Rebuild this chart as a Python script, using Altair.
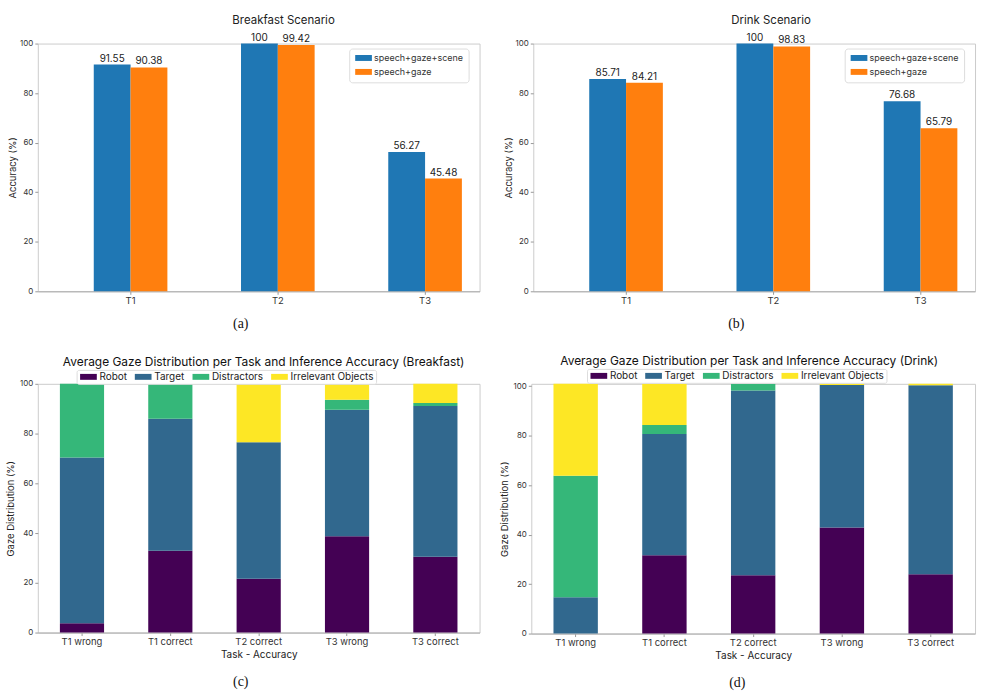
import altair as alt
import pandas as pd

# ---------------- data ----------------
tasks = ["T1", "T2", "T3"]
methods = ["speech+gaze+scene", "speech+gaze"]
method_colors = ["#1f77b4", "#ff7f0e"]
breakfast_sgs = [91.55, 100.0, 56.27]
breakfast_sg = [90.38, 99.42, 45.48]
drink_sgs = [85.71, 100.0, 76.68]
drink_sg = [84.21, 98.83, 65.79]

groups = ["T1 wrong", "T1 correct", "T2 correct", "T3 wrong", "T3 correct"]
gaze_classes = ["Robot", "Target", "Distractors", "Irrelevant Objects"]
gaze_colors = ["#440154", "#31688e", "#35b779", "#fde725"]
bf_robot = [3.7, 32.9, 21.6, 38.7, 30.5]
bf_target = [66.7, 53.1, 54.9, 50.9, 60.6]
bf_distr = [29.6, 14.0, 0.0, 4.0, 1.2]
bf_irr = [0.0, 0.0, 23.5, 6.4, 7.7]
dr_robot = [0.0, 31.7, 23.6, 42.9, 24.0]
dr_target = [14.7, 49.0, 74.7, 57.6, 76.4]
dr_distr = [49.1, 3.6, 2.7, 0.0, 0.0]
dr_irr = [37.2, 16.7, 0.0, 0.5, 0.6]

FONT = "Inter"
SERIF = "Liberation Serif"
RECT = "M-1,-0.85H3.8V0.85H-1Z"


def acc_df(a, b):
    rows = []
    for i, t in enumerate(tasks):
        for m, vals in zip(methods, (a, b)):
            rows.append({"task": t, "method": m, "acc": vals[i], "label": f"{vals[i]:g}"})
    return pd.DataFrame(rows)


def gaze_df(*series):
    rows = []
    for k, cls in enumerate(gaze_classes):
        for i, g in enumerate(groups):
            rows.append({"group": g, "cls": cls, "idx": k, "pct": series[k][i]})
    return pd.DataFrame(rows)


def caption_layer(text, x, y):
    return alt.Chart(alt.Data(values=[{"c": text}])).mark_text(
        font=SERIF, fontSize=14, color="#111", baseline="middle", align="center"
    ).encode(x=alt.value(x), y=alt.value(y), text="c:N")


def acc_panel(df, title, caption, dx):
    W, H = 444, 249
    x = alt.X("task:N", sort=tasks, title=None,
              scale=alt.Scale(paddingInner=0.5, paddingOuter=0.25, align=0.76),
              axis=alt.Axis(labelAngle=0, labelFontSize=9.5, tickSize=3, labelPadding=1))
    xo = alt.XOffset("method:N", sort=methods, scale=alt.Scale(paddingInner=0, paddingOuter=0))
    y = alt.Y("acc:Q", scale=alt.Scale(domain=[0, 100], nice=False),
              axis=alt.Axis(values=[0, 20, 40, 60, 80, 100], title="Accuracy (%)",
                            titleFontSize=9.5, labelFontSize=8, tickSize=3, titlePadding=2,
                            domain=False))
    base = alt.Chart(df)
    bars = base.mark_bar().encode(
        x=x, xOffset=xo, y=y,
        color=alt.Color("method:N", sort=methods,
                        scale=alt.Scale(domain=methods, range=method_colors),
                        legend=alt.Legend(title=None, orient="none", legendX=313, legendY=5,
                                          symbolType=RECT, symbolSize=49, labelFontSize=9,
                                          labelOffset=11, rowPadding=4, padding=5,
                                          strokeColor="#dddddd", fillColor="white",
                                          cornerRadius=3, labelColor="#333")),
    )
    labels = base.mark_text(baseline="bottom", dy=-1, fontSize=10, font=FONT, color="#222").encode(
        x=x, xOffset=xo, y=alt.Y("acc:Q"), text="label:N")
    cap = caption_layer(caption, 204, H + 33)
    return alt.layer(bars, labels, cap).properties(
        width=W, height=H,
        title=alt.Title(title, fontSize=11.5, font=FONT, fontWeight="normal", color="#222",
                        frame="group", dx=dx, offset=6))


def gaze_panel(df, title, caption, W, H, ymax, lx, ly, dx, capx):
    bars = alt.Chart(df).mark_bar().encode(
        x=alt.X("group:N", sort=groups, title="Task - Accuracy",
                scale=alt.Scale(paddingInner=0.5, paddingOuter=0.25),
                axis=alt.Axis(labelAngle=0, labelFontSize=9.5, tickSize=3, labelPadding=1,
                              titleFontSize=10, titlePadding=4)),
        y=alt.Y("pct:Q", stack="zero", scale=alt.Scale(domain=[0, ymax], nice=False),
                axis=alt.Axis(values=[0, 20, 40, 60, 80, 100], title="Gaze Distribution (%)",
                              titleFontSize=9.5, labelFontSize=8, tickSize=3, titlePadding=4,
                              domain=False)),
        color=alt.Color("cls:N", sort=gaze_classes,
                        scale=alt.Scale(domain=gaze_classes, range=gaze_colors),
                        legend=alt.Legend(title=None, orient="none", legendX=lx, legendY=ly,
                                          direction="horizontal", columns=4,
                                          symbolType=RECT, symbolSize=49, labelFontSize=10,
                                          labelOffset=11, columnPadding=6, padding=2,
                                          strokeColor="#dddddd", fillColor="white",
                                          cornerRadius=2, labelColor="#222")),
        order=alt.Order("idx:Q", sort="ascending"),
    )
    cap = caption_layer(caption, capx, H + 50)
    return alt.layer(bars, cap).properties(
        width=W, height=H,
        title=alt.Title(title, fontSize=12, font=FONT, fontWeight="normal", color="#111",
                        frame="group", dx=dx, offset=0))


a = acc_panel(acc_df(breakfast_sgs, breakfast_sg), "Breakfast Scenario", "(a)", 25)
b = acc_panel(acc_df(drink_sgs, drink_sg), "Drink Scenario", "(b)", 17)
c = gaze_panel(gaze_df(bf_robot, bf_target, bf_distr, bf_irr),
               "Average Gaze Distribution per Task and Inference Accuracy (Breakfast)",
               "(c)", 444, 250, 100, 39, -14, 5, 204)
d = gaze_panel(gaze_df(dr_robot, dr_target, dr_distr, dr_irr),
               "Average Gaze Distribution per Task and Inference Accuracy (Drink)",
               "(d)", 446, 251, 101, 56, -15, -4, 207)

row1 = alt.hconcat(a, b, spacing=22).resolve_scale(color="independent").resolve_legend(color="independent")
row2 = alt.hconcat(c, d, spacing=18).resolve_scale(color="independent").resolve_legend(color="independent")

chart = alt.vconcat(row1, row2, spacing=23).resolve_scale(
    color="independent"
).resolve_legend(color="independent").configure(
    padding={"left": 5, "top": 13, "right": 5, "bottom": 5},
    font=FONT,
).configure_view(
    stroke="#cccccc", strokeWidth=1
).configure_axis(
    grid=False, domainColor="#aaaaaa", tickColor="#999999", labelColor="#333333",
    titleColor="#222222", titleFontWeight="normal", labelFont=FONT, titleFont=FONT,
)

chart.save("out.html", embed_options={"renderer": "svg", "actions": False})
